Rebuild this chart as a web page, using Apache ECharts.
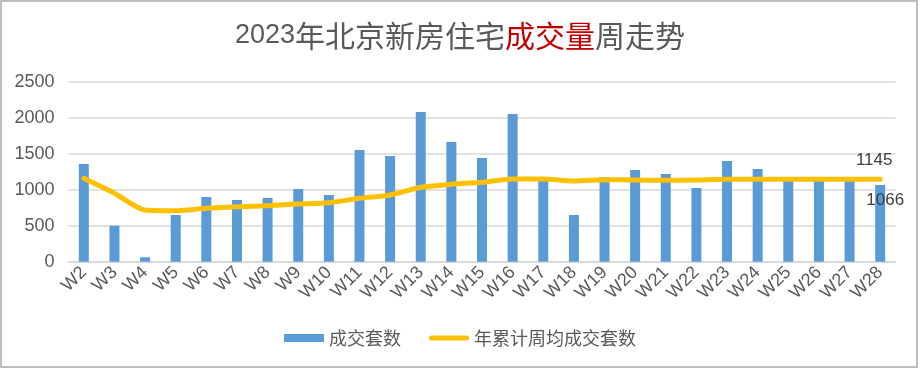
<!DOCTYPE html>
<html><head><meta charset="utf-8">
<script src="https://cdn.jsdelivr.net/npm/echarts@6/dist/echarts.min.js"></script>
<style>html,body{margin:0;padding:0;background:#fff}#c{width:920px;height:370px}</style>
</head><body><div id="c"></div>
<script>
const categories = ['W2','W3','W4','W5','W6','W7','W8','W9','W10','W11','W12','W13','W14','W15','W16','W17','W18','W19','W20','W21','W22','W23','W24','W25','W26','W27','W28'];
const weeklyDeals = [1357,500,62,649,899,857,885,1010,926,1551,1468,2079,1663,1440,2051,1130,649,1176,1274,1218,1024,1399,1288,1140,1145,1150,1066];
const avgDeals = [1158,950,718,708,742,764,778,801,819,881,926,1033,1075,1103,1149,1149,1121,1139,1135,1130,1135,1145,1145,1145,1145,1145,1145];
const yTicks = [0,500,1000,1500,2000,2500];
const seriesNames = ['成交套数','年累计周均成交套数'];
const titleParts = [['2023','d'],['年北京新房住宅','g'],['成交量','r'],['周走势','g']];

function buildTitle(){
  return titleParts.map(([t,k])=>'{'+k+'|'+t+'}').join('');
}
const gray='#595959';
const last = categories.length-1;
const chart = echarts.init(document.getElementById('c'));
chart.setOption({
  animation:false,
  graphic:[{type:'rect',shape:{x:1,y:1,width:916,height:366},style:{fill:'none',stroke:'#bfbfbf',lineWidth:2},silent:true}],
  title:{
    text:buildTitle(), left:'center', top:14,
    textStyle:{
      fontWeight:'normal',
      rich:{
        d:{fontSize:27,fontWeight:'normal',color:gray,fontFamily:'Liberation Sans, Arial',height:34},
        g:{fontSize:30,fontWeight:'normal',color:gray,fontFamily:'Noto Sans CJK SC',height:34},
        r:{fontSize:30,fontWeight:'normal',color:'#c00000',fontFamily:'Noto Sans CJK SC',height:34}
      }
    }
  },
  legend:{
    bottom:18, left:'center', itemGap:28, itemWidth:40, itemHeight:8,
    textStyle:{fontSize:18,color:gray,fontFamily:'Noto Sans CJK SC'},
    data:[
      {name:seriesNames[0], icon:'rect'},
      {name:seriesNames[1], icon:'path://M2.5,0 L37.5,0 A2.5,2.5 0 0 1 37.5,5 L2.5,5 A2.5,2.5 0 0 1 2.5,0 Z'}
    ]
  },
  grid:{left:68.5,right:24.5,top:81.7,bottom:108.3,containLabel:false},
  xAxis:{
    type:'category', data:categories,
    axisLine:{lineStyle:{color:'#d9d9d9',width:1.5}},
    axisTick:{show:false},
    axisLabel:{rotate:45,fontSize:18,color:gray,fontFamily:'Liberation Sans, Arial',margin:8,interval:0}
  },
  yAxis:{
    type:'value', min:yTicks[0], max:yTicks[yTicks.length-1], interval:500,
    axisLine:{show:false}, axisTick:{show:false},
    axisLabel:{fontSize:18,color:gray,fontFamily:'Liberation Sans, Arial',margin:14,formatter:v=>String(v)},
    splitLine:{lineStyle:{color:'#d9d9d9',width:1.5}}
  },
  series:[
    {
      name:seriesNames[0], type:'bar', barWidth:10,
      itemStyle:{color:'#5b9bd5'},
      data:weeklyDeals.map((v,i)=> i===last ? {value:v,label:{show:true,position:'insideTop',offset:[5,2],fontSize:17,color:'#404040',fontFamily:'Liberation Sans, Arial'}} : v)
    },
    {
      name:seriesNames[1], type:'line', symbol:'none', smooth:0.25, z:3,
      lineStyle:{color:'#ffc000',width:5,cap:'round',join:'round'},
      itemStyle:{color:'#ffc000'},
      data:avgDeals.map((v,i)=> i===last ? {value:v,symbol:'circle',symbolSize:1,label:{show:true,position:'top',offset:[-6,-5],fontSize:17,color:'#404040',fontFamily:'Liberation Sans, Arial'}} : v)
    }
  ]
});
</script></body></html>
